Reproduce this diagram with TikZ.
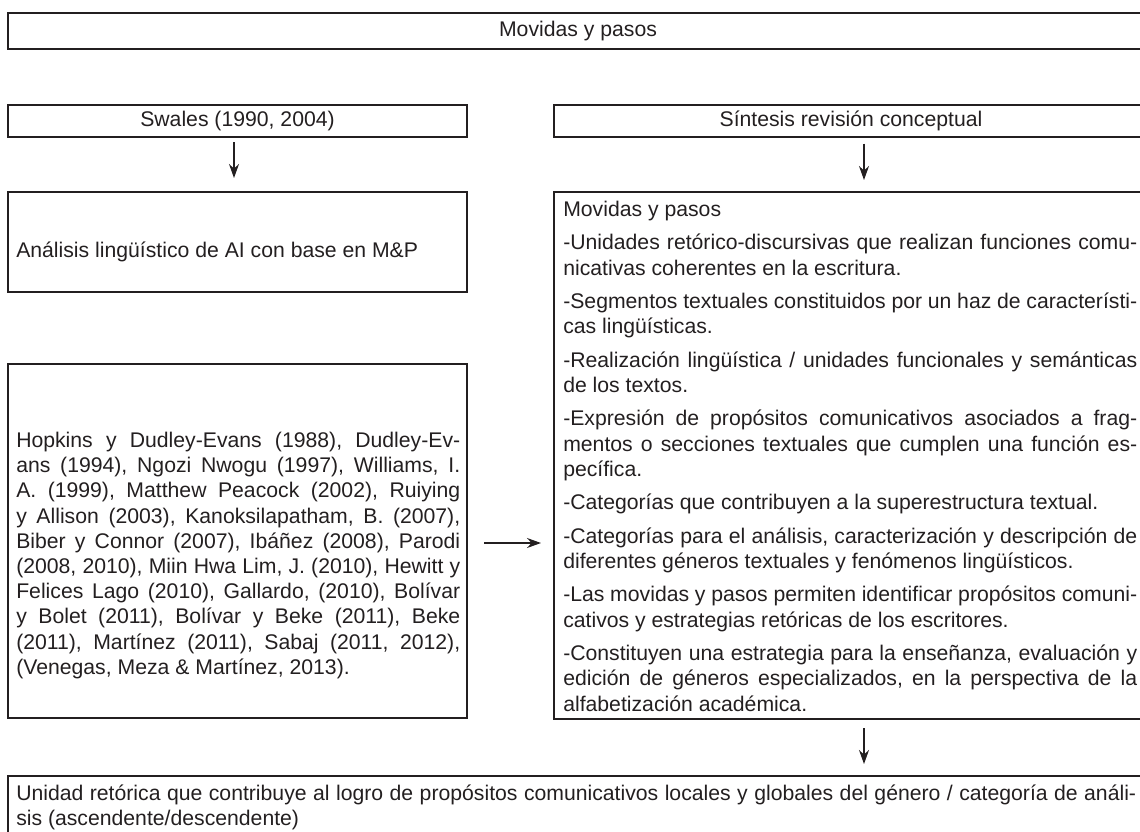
\documentclass[tikz,border=0pt]{standalone}
\usepackage{fontspec}
\setmainfont{Liberation Sans}
\usetikzlibrary{arrows.meta,calc}
\definecolor{ink}{HTML}{231F20}
\newcommand{\mainsize}{\fontsize{15.9pt}{18.9pt}\selectfont\frenchspacing}
\newcommand{\justline}[1]{\makebox[\linewidth][s]{#1}\par}
\newcommand{\paragap}{\vspace{6.2pt}}
\begin{document}
\begin{tikzpicture}[x=0.75pt,y=-0.75pt,
  box/.style={draw=ink, line width=1.3pt, inner sep=0pt, outer sep=0pt, anchor=north west, font=\mainsize, text=ink},
  arr/.style={draw=ink, line width=1pt, -{Stealth[length=10.5pt,width=7.5pt]}},
  txt/.style={inner sep=0pt, font=\mainsize, text=ink}]
\useasboundingbox (0,0) rectangle (1140,832);
\clip (0,0) rectangle (1140,832);

% boxes (top-left corner, size in pt = px * 0.75)
\node[box, minimum width=855pt, minimum height=27pt] (top) at (8,13) {Movidas y pasos};
\node[box, minimum width=344.25pt, minimum height=24pt] (swales) at (8,105) {Swales (1990, 2004)};
\node[box, minimum width=445.5pt, minimum height=24pt] (sint) at (554,105) {Síntesis revisión conceptual};
\node[box, minimum width=344.25pt, minimum height=75pt] (ai) at (8,192) {};
\node[box, minimum width=344.25pt, minimum height=265.5pt] (lit) at (8,364) {};
\node[box, minimum width=445.5pt, minimum height=395.25pt] (rbox) at (554,192) {};
\node[box, minimum width=855pt, minimum height=55.5pt] (bot) at (8,776) {};

% texts
\node[txt, anchor=base west] (aitxt) at (16,257) {Análisis lingüístico de AI con base en M\&P};

\node[txt, anchor=base west] (littxt) at (16,447.5) {\parbox[t]{333pt}{\mainsize\setlength{\parindent}{0pt}%
\justline{Hopkins y Dudley-Evans (1988), Dudley-Ev-}
\justline{ans (1994), Ngozi Nwogu (1997), Williams, I.}
\justline{A. (1999), Matthew Peacock (2002), Ruiying}
\justline{y Allison (2003), Kanoksilapatham, B. (2007),}
\justline{Biber y Connor (2007), Ibáñez (2008), Parodi}
\justline{(2008, 2010), Miin Hwa Lim, J. (2010), Hewitt y}
\justline{Felices Lago (2010), Gallardo, (2010), Bolívar}
\justline{y Bolet (2011), Bolívar y Beke (2011), Beke}
\justline{(2011), Martínez (2011), Sabaj (2011, 2012),}
(Venegas, Meza \& Martínez, 2013).\par}};

\node[txt, anchor=base west] (rtxt) at (563,216.5) {\parbox[t]{430.5pt}{\mainsize\setlength{\parindent}{0pt}%
Movidas y pasos\par\paragap
\justline{-Unidades retórico-discursivas que realizan funciones comu-}
nicativas coherentes en la escritura.\par\paragap
\justline{-Segmentos textuales constituidos por un haz de característi-}
cas lingüísticas.\par\paragap
\justline{-Realización lingüística / unidades funcionales y semánticas}
de los textos.\par\paragap
\justline{-Expresión de propósitos comunicativos asociados a frag-}
\justline{mentos o secciones textuales que cumplen una función es-}
pecífica.\par\paragap
-Categorías que contribuyen a la superestructura textual.\par\paragap
\justline{-Categorías para el análisis, caracterización y descripción de}
diferentes géneros textuales y fenómenos lingüísticos.\par\paragap
\justline{-Las movidas y pasos permiten identificar propósitos comuni-}
cativos y estrategias retóricas de los escritores.\par\paragap
\justline{-Constituyen una estrategia para la enseñanza, evaluación y}
\justline{edición de géneros especializados, en la perspectiva de la}
alfabetización académica.\par}};

\node[txt, anchor=base west] (bottxt) at (16,800) {\parbox[t]{840pt}{\mainsize\setlength{\parindent}{0pt}%
\justline{Unidad retórica que contribuye al logro de propósitos comunicativos locales y globales del género / categoría de análi-}
sis (ascendente/descendente)\par}};

% connectors
\coordinate (ax1) at (234,0);
\coordinate (ax2) at (864,0);
\coordinate (ha) at (0,543);
\draw[arr, shorten <=3.75pt, shorten >=10.5pt] (swales.south -| ax1) -- (ai.north -| ax1);
\draw[arr, shorten <=5pt, shorten >=9pt] (sint.south -| ax2) -- (rbox.north -| ax2);
\draw[arr, shorten <=12.75pt, shorten >=9.75pt] (lit.east |- ha) -- (rbox.west |- ha);
\draw[arr, shorten <=6.75pt, shorten >=9pt] (rbox.south -| ax2) -- (bot.north -| ax2);
\end{tikzpicture}
\end{document}
